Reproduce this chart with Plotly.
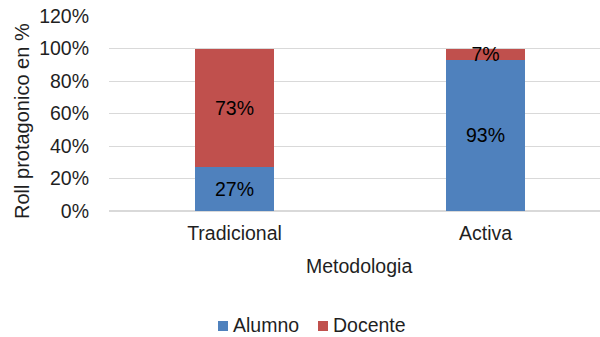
import plotly.graph_objects as go

# Data: share of the leading role by teaching methodology
metodologias = ["Tradicional", "Activa"]
series_names = ["Alumno", "Docente"]
alumno = [27, 93]
docente = [73, 7]
y_ticks = [0, 20, 40, 60, 80, 100, 120]
y_tick_text = [f"{v}%" for v in y_ticks]

FONT = "Liberation Sans, Arial, sans-serif"
TXT = "#1f1f1f"
FS = 19.5
COLORS = ["#4f81bd", "#c0504d"]

# plot area in pixels (used to place the key and axis titles around the plot)
L, R, T, B = 109, 600, 16, 211
def px_x(px):
    return (px - L) / (R - L)
def px_y(py):
    return (B - py) / (B - T)

fig = go.Figure()
for name, vals, color in zip(series_names, (alumno, docente), COLORS):
    fig.add_trace(go.Bar(
        name=name, x=metodologias, y=vals,
        marker=dict(color=color, line=dict(width=0)),
        texttemplate="%{y:.0f}%", textposition="inside", insidetextanchor="middle",
        textfont=dict(color="black", size=FS, family=FONT),
        width=0.315, showlegend=False,
    ))

# horizontal key below the chart: colour square + series name
key_left = [218, 318]
shapes, annotations = [], []
for name, color, x0 in zip(series_names, COLORS, key_left):
    shapes.append(dict(type="rect", xref="paper", yref="paper",
                       x0=px_x(x0), x1=px_x(x0 + 10), y0=px_y(331), y1=px_y(321),
                       fillcolor=color, line=dict(width=0)))
    annotations.append(dict(text=name, xref="paper", yref="paper",
                            x=px_x(x0 + 13), y=px_y(325), xanchor="left", yanchor="middle",
                            showarrow=False, font=dict(size=FS, color=TXT)))

# axis titles
annotations.append(dict(text="Metodologia", xref="paper", yref="paper",
                        x=px_x(359), y=px_y(266), xanchor="center", yanchor="middle",
                        showarrow=False, font=dict(size=FS, color=TXT)))
annotations.append(dict(text="Roll protagonico en %", xref="paper", yref="paper",
                        x=px_x(22), y=px_y(121), xanchor="center", yanchor="middle",
                        textangle=-90, showarrow=False, font=dict(size=20, color=TXT)))

fig.update_layout(
    barmode="stack",
    width=600, height=337,
    margin=dict(l=L, r=600 - R, t=T, b=337 - B, autoexpand=False),
    paper_bgcolor="white", plot_bgcolor="white",
    font=dict(family=FONT, size=FS, color=TXT),
    uniformtext=dict(minsize=FS, mode="show"),
    showlegend=False,
    xaxis=dict(range=[-0.5, 1.456], showgrid=False, showline=False, ticks="",
               tickfont=dict(size=FS, color=TXT), ticklabelstandoff=8),
    yaxis=dict(range=[0, 120], tickvals=y_ticks, ticktext=y_tick_text,
               showgrid=True, gridcolor="#d9d9d9", gridwidth=1.3,
               zeroline=True, zerolinecolor="#d9d9d9", zerolinewidth=1.5,
               showline=False, ticks="", tickfont=dict(size=FS, color=TXT),
               ticklabelstandoff=19),
    shapes=shapes,
    annotations=annotations,
)

fig.write_html("out.html")
